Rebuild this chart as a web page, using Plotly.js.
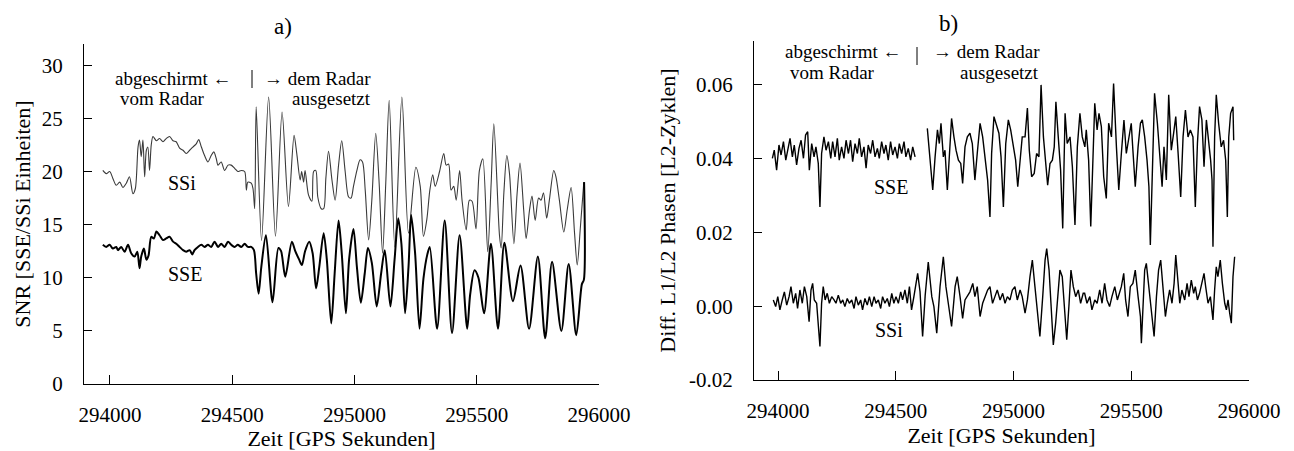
<!DOCTYPE html>
<html>
<head>
<meta charset="utf-8">
<script src="https://cdn.plot.ly/plotly-3.0.1.min.js"></script>
<style>html,body{margin:0;padding:0;background:#fff;}#chart{width:1294px;height:451px;}</style>
</head>
<body>
<div id="chart"></div>
<script>
// ---- Panel a) SNR, SSi (thin) ----
const aSsiTime = [293971,293985,293999,294012,294026,294040,294053,294067,294080,294094,294104,294115,294121,294128,294135,294142,294149,294155,294162,294169,294176,294190,294203,294217,294230,294244,294258,294271,294285,294299,294312,294326,294339,294353,294363,294374,294387,294401,294414,294425,294435,294442,294455,294469,294483,294496,294510,294523,294537,294551,294558,294564,294578,294585,294592,294598,294620,294649,294677,294704,294730,294753,294764,294778,294784,294792,294798,294812,294826,294833,294842,294850,294864,294874,294883,294894,294908,294921,294935,294948,294962,294976,294986,294996,295010,295023,295033,295044,295058,295071,295087,295101,295115,295128,295142,295165,295194,295221,295251,295269,295282,295296,295308,295320,295330,295348,295365,295375,295385,295395,295406,295416,295430,295440,295457,295470,295481,295497,295511,295525,295545,295559,295570,295593,295600,295611,295623,295634,295652,295665,295677,295692,295702,295716,295726,295739,295753,295763,295773,295786,295797,295815,295824,295838,295856,295870,295886,295900,295911,295924,295938];
const aSsiSnr = [20.1,19.8,20.0,19.35,18.7,19.0,18.5,18.9,19.5,17.9,18.4,22.3,22.95,21.4,22.95,19.5,22.0,22.3,20.1,22.5,23.3,22.9,23.1,22.8,23.1,23.3,22.9,22.8,22.2,22.0,21.7,22.0,22.3,22.6,23.0,22.3,21.5,20.9,21.5,21.85,21.2,20.6,20.9,20.1,20.6,20.6,20.3,20.0,20.1,20.0,18.25,19.0,18.9,18.4,16.5,26.1,13.5,27.0,13.9,25.6,16.7,23.4,21.7,19.2,20.0,19.0,20.1,17.8,17.2,20.0,20.1,17.6,16.5,16.5,19.35,21.9,19.2,17.3,20.6,22.9,20.0,17.6,17.5,18.6,20.1,21.1,20.9,18.25,13.55,17.3,23.6,18.9,12.3,18.9,26.7,12.9,27.0,14.2,20.4,18.6,13.9,15.5,18.2,19.7,18.6,20.0,21.7,20.6,20.7,18.25,18.6,17.3,20.1,17.3,14.5,17.3,17.2,14.6,20.1,21.2,12.45,18.9,24.5,14.0,12.8,18.0,21.5,19.8,13.2,17.9,20.8,16.4,13.7,16.4,17.7,15.4,17.5,17.3,18.0,15.6,17.3,20.1,19.5,17.3,14.3,16.4,18.5,14.2,11.2,14.8,19.0];

// ---- Panel a) SNR, SSE (thick) ----
const aSseTime = [293971,293985,293999,294012,294026,294033,294046,294060,294074,294087,294101,294112,294121,294128,294139,294149,294158,294169,294180,294190,294203,294217,294230,294244,294258,294271,294285,294299,294312,294326,294337,294346,294360,294374,294387,294401,294414,294428,294442,294455,294469,294483,294496,294510,294523,294537,294551,294564,294578,294589,294598,294608,294619,294638,294665,294689,294700,294717,294744,294758,294774,294785,294798,294815,294829,294843,294856,294874,294887,294905,294919,294935,294948,294965,294978,294996,295010,295026,295042,295055,295071,295091,295109,295124,295147,295164,295179,295192,295207,295221,295232,295248,295266,295282,295298,295308,295338,295369,295399,295430,295461,295473,295491,295507,295530,295558,295587,295613,295648,295679,295714,295750,295780,295808,295846,295876,295907,295930,295938,295939];
const aSseSnr = [13.1,12.9,13.1,12.75,12.9,12.6,12.9,12.45,13.1,12.3,12.0,12.45,10.9,12.0,12.75,11.7,12.1,13.85,13.7,14.35,14.0,13.55,13.7,13.85,13.4,13.2,12.9,12.6,12.45,12.6,12.2,12.6,12.9,13.1,12.9,13.1,12.9,13.4,12.9,13.2,12.9,13.4,13.1,12.9,13.1,12.9,13.2,12.9,12.9,12.6,10.4,8.5,11.0,14.0,7.7,12.8,12.5,10.1,13.4,12.5,11.7,11.2,12.5,13.4,12.3,9.0,11.0,14.2,11.7,5.7,10.4,15.4,12.3,6.65,11.7,14.6,11.0,7.65,10.4,12.8,11.4,7.3,10.4,12.6,7.3,11.7,15.6,13.2,6.65,11.0,15.9,12.3,5.2,9.9,12.2,12.9,5.2,15.4,4.8,14.0,5.2,8.4,10.7,10.0,6.65,13.2,5.2,13.3,7.8,11.15,5.2,12.0,4.3,11.5,5.0,11.3,4.6,9.4,9.8,19.0];

// ---- Panel b) Diff. L1/L2 phase, SSE (upper) ----
const bSseTime = [293976,293984,293994,294004,294013,294023,294033,294041,294051,294061,294069,294079,294089,294098,294108,294117,294126,294133,294143,294153,294161,294171,294178,294185,294195,294204,294214,294224,294232,294242,294252,294260,294270,294280,294289,294299,294308,294317,294327,294337,294345,294355,294365,294374,294383,294393,294402,294412,294422,294430,294440,294450,294458,294468,294478,294487,294497,294507,294515,294525,294535,294543,294553,294563,294572,294582,294600,
294634,294638,294648,294657,294667,294677,294685,294692,294702,294709,294719,294728,294737,294747,294756,294766,294776,294784,294794,294804,294815,294825,294836,294846,294858,294869,294879,294890,294900,294907,294917,294928,294938,294947,294957,294967,294978,294988,294999,295009,295018,295028,295037,295049,295059,295067,295077,295088,295098,295108,295117,295127,295136,295145,295155,295165,295173,295180,295190,295200,295209,295219,295228,295240,295250,295261,295271,295282,295292,295303,
295309,295319,295328,295338,295345,295355,295363,295373,295383,295394,295404,295416,295425,295437,295447,295458,295469,295479,295489,295500,295507,295517,295529,295539,295547,295557,295567,295575,295581,295590,295599,295611,295621,295631,295639,295649,295659,295670,295680,295689,295699,295710,295720,295730,295741,295751,295762,295772,295781,295790,295800,295809,295819,295829,295837,295843,295847,295854,295861,295871,295882,295892,295901,295908,295914,295922,295932,295935];
const bSsePhase = [0.0401,0.0423,0.0369,0.0437,0.0410,0.0446,0.0396,0.0423,0.0455,0.0405,0.0437,0.0383,0.0428,0.0450,0.0401,0.0464,0.0473,0.0369,0.0441,0.0405,0.0432,0.0387,0.0269,0.0414,0.0459,0.0423,0.0446,0.0401,0.0446,0.0405,0.0455,0.0396,0.0432,0.0401,0.0450,0.0414,0.0450,0.0392,0.0441,0.0414,0.0455,0.0405,0.0432,0.0374,0.0437,0.0414,0.0450,0.0405,0.0428,0.0401,0.0446,0.0414,0.0437,0.0396,0.0446,0.0410,0.0432,0.0401,0.0441,0.0414,0.0446,0.0405,0.0428,0.0396,0.0432,0.0405,null,
0.0482,0.0450,0.0378,0.0315,0.0405,0.0478,0.0441,0.0496,0.0405,0.0423,0.0315,0.0432,0.0509,0.0459,0.0423,0.0396,0.0387,0.0333,0.0432,0.0459,0.0469,0.0441,0.0342,0.0414,0.0496,0.0459,0.0396,0.0342,0.0242,0.0414,0.0514,0.0487,0.0469,0.0405,0.0269,0.0441,0.0505,0.0478,0.0432,0.0396,0.0324,0.0405,0.0459,0.0459,0.0537,0.0423,0.0351,0.0360,0.0414,0.0405,0.0600,0.0459,0.0387,0.0328,0.0387,0.0396,0.0432,0.0554,0.0459,0.0369,0.0211,0.0523,0.0441,0.0459,0.0378,0.0220,0.0432,0.0523,0.0459,0.0432,
0.0478,0.0396,0.0216,0.0441,0.0550,0.0478,0.0523,0.0487,0.0351,0.0292,0.0496,0.0459,0.0604,0.0432,0.0315,0.0414,0.0505,0.0414,0.0459,0.0496,0.0423,0.0324,0.0432,0.0496,0.0505,0.0459,0.0396,0.0324,0.0166,0.0414,0.0577,0.0496,0.0396,0.0324,0.0432,0.0342,0.0573,0.0423,0.0469,0.0514,0.0414,0.0296,0.0459,0.0532,0.0459,0.0478,0.0459,0.0269,0.0441,0.0541,0.0505,0.0378,0.0505,0.0450,0.0396,0.0342,0.0161,0.0459,0.0573,0.0496,0.0432,0.0450,0.0396,0.0242,0.0459,0.0523,0.0541,0.0450];

// ---- Panel b) Diff. L1/L2 phase, SSi (lower) ----
const bSsiTime = [293980,293990,293999,294008,294018,294027,294037,294047,294055,294065,294075,294083,294093,294103,294112,294122,294132,294140,294147,294154,294164,294171,294178,294185,294192,294200,294209,294218,294228,294238,294246,294256,294266,294275,294284,294294,294303,294313,294323,294331,294341,294351,294359,294369,294379,294388,294398,294408,294416,294426,294436,294444,294454,294464,294473,294483,294492,294501,294511,294521,294529,294539,294549,294558,294567,294577,294586,294593,294603,294614,294625,294638,
294653,294662,294674,294688,294702,294713,294723,294737,294752,294761,294773,294784,294794,294804,294815,294827,294836,294846,294858,294869,294879,294890,294900,294911,294921,294931,294943,294954,294964,294974,294985,294995,295006,295016,295028,295037,295049,295059,295070,295080,295091,295101,295112,295124,295134,295141,295151,295159,295169,295179,295187,295197,295207,295216,295226,295236,295244,295254,295264,295275,295285,295296,
295302,295312,295324,295333,295345,295355,295366,295376,295387,295397,295408,295418,295430,295441,295451,295458,295468,295476,295486,295496,295507,295517,295529,295539,295543,295550,295557,295564,295574,295582,295590,295597,295607,295616,295625,295635,295645,295653,295663,295673,295682,295689,295699,295706,295715,295727,295737,295745,295755,295765,295772,295781,295790,295800,295809,295816,295826,295836,295847,295854,295861,295868,295878,295887,295897,295904,295911,295918,295925,295932,295939];
const bSsiPhase = [0.0017,-0.0001,0.0026,-0.0010,0.0017,0.0039,0.0003,0.0026,0.0053,0.0008,0.0035,-0.0006,0.0044,0.0008,0.0053,0.0026,-0.0042,0.0044,0.0062,0.0017,0.0008,-0.0046,-0.0109,0.0008,0.0053,0.0017,0.0035,0.0008,0.0026,0.0017,0.0008,0.0030,0.0008,0.0017,-0.0001,0.0021,0.0008,0.0017,-0.0006,0.0026,0.0003,0.0017,-0.0010,0.0021,0.0003,0.0026,-0.0001,0.0026,0.0008,0.0017,-0.0006,0.0026,0.0008,0.0021,-0.0001,0.0035,0.0008,0.0026,0.0008,0.0039,0.0017,0.0044,0.0008,0.0053,-0.0010,0.0026,0.0062,0.0089,0.0040,-0.0082,0.0030,0.0120,
0.0026,-0.0001,-0.0073,0.0053,0.0134,0.0053,0.0008,-0.0055,0.0053,0.0080,0.0026,-0.0033,0.0017,0.0026,0.0039,0.0062,0.0026,0.0053,-0.0028,0.0008,0.0026,0.0044,0.0053,0.0008,0.0026,0.0044,0.0017,0.0035,0.0008,0.0026,0.0017,0.0044,0.0053,0.0017,0.0044,0.0026,-0.0019,0.0017,0.0080,0.0125,0.0053,-0.0010,-0.0082,0.0026,0.0125,0.0156,0.0098,0.0008,-0.0105,-0.0046,0.0026,0.0098,0.0080,0.0008,-0.0091,0.0008,0.0098,0.0053,0.0026,0.0044,0.0008,0.0035,
0.0035,0.0008,0.0026,-0.0010,0.0017,0.0008,0.0044,0.0008,0.0062,0.0017,-0.0001,0.0026,0.0053,0.0017,0.0035,0.0053,0.0089,0.0017,-0.0028,0.0053,0.0062,0.0098,0.0026,-0.0028,-0.0100,0.0008,0.0098,0.0116,0.0053,-0.0001,-0.0055,-0.0082,0.0026,0.0098,0.0125,0.0053,-0.0028,0.0008,0.0044,0.0008,0.0062,0.0139,0.0053,0.0008,0.0044,0.0017,0.0062,0.0026,0.0071,0.0035,0.0053,0.0017,0.0035,0.0062,0.0089,0.0053,0.0008,0.0026,-0.0037,0.0044,0.0107,0.0080,0.0125,0.0062,0.0008,-0.0010,0.0017,-0.0019,-0.0046,0.0080,0.0134];

// ---- Axis ticks ----
const timeTicks = [294000, 294500, 295000, 295500, 296000];
const timeTickText = ['294000', '294500', '295000', '295500', '296000'];
const snrTicks = [0, 5, 10, 15, 20, 25, 30];
const phaseTicks = [-0.02, 0.00, 0.02, 0.04, 0.06];
const phaseTickText = ['-0.02', '0.00', '0.02', '0.04', '0.06'];

const W = 1294, H = 451;
const FONT = '"Liberation Serif", serif';
const px = v => v / W;
const py = v => 1 - v / H;

const traces = [
  {x: aSsiTime, y: aSsiSnr, xaxis: 'x', yaxis: 'y', mode: 'lines', line: {color: '#3a3a3a', width: 1.1, shape: 'spline', smoothing: 0.8}, hoverinfo: 'skip'},
  {x: aSseTime, y: aSseSnr, xaxis: 'x', yaxis: 'y', mode: 'lines', line: {color: '#000', width: 2, shape: 'spline', smoothing: 0.8}, hoverinfo: 'skip'},
  {x: bSseTime, y: bSsePhase, xaxis: 'x2', yaxis: 'y2', mode: 'lines', connectgaps: false, line: {color: '#000', width: 1.4}, hoverinfo: 'skip'},
  {x: bSsiTime, y: bSsiPhase, xaxis: 'x2', yaxis: 'y2', mode: 'lines', line: {color: '#000', width: 1.4}, hoverinfo: 'skip'}
];

const axisCommon = {
  showgrid: false, zeroline: false, showline: true, linecolor: '#000', linewidth: 1,
  ticks: 'inside', tickcolor: '#000', tickwidth: 1, mirror: false, automargin: false,
  tickfont: {family: FONT, size: 21, color: '#000'}
};

const layout = {
  width: W, height: H,
  margin: {l: 0, r: 0, t: 0, b: 0},
  paper_bgcolor: '#fff', plot_bgcolor: '#fff',
  showlegend: false,
  font: {family: FONT, color: '#000'},
  xaxis: Object.assign({}, axisCommon, {
    domain: [px(84), px(599)], range: [293894, 296000], anchor: 'y',
    tickvals: timeTicks, ticktext: timeTickText, ticklen: 9, ticklabelstandoff: 12,
    title: {text: 'Zeit [GPS Sekunden]', font: {family: FONT, size: 22, color: '#000'}, standoff: 1}
  }),
  yaxis: Object.assign({}, axisCommon, {
    domain: [py(384), py(44)], range: [0, 32], anchor: 'x',
    tickvals: snrTicks, ticklen: 8, ticklabelstandoff: 16,
    title: {text: 'SNR [SSE/SSi Einheiten]', font: {family: FONT, size: 22, color: '#000'}, standoff: 5}
  }),
  xaxis2: Object.assign({}, axisCommon, {
    domain: [px(754), px(1249)], range: [293898, 296000], anchor: 'y2',
    tickvals: timeTicks, ticktext: timeTickText, ticklen: 9, ticklabelstandoff: 12,
    title: {text: 'Zeit [GPS Sekunden]', font: {family: FONT, size: 22, color: '#000'}, standoff: 0}
  }),
  yaxis2: Object.assign({}, axisCommon, {
    domain: [py(380), py(41)], range: [-0.02, 0.0719], anchor: 'x2',
    tickvals: phaseTicks, ticktext: phaseTickText, ticklen: 8, ticklabelstandoff: 16,
    title: {text: 'Diff. L1/L2 Phasen [L2-Zyklen]', font: {family: FONT, size: 22, color: '#000'}, standoff: 7}
  }),
  annotations: [],
  shapes: [
    {type: 'line', xref: 'paper', yref: 'paper', x0: 252 / W, x1: 252 / W, y0: 1 - 70 / H, y1: 1 - 88 / H, line: {color: '#000', width: 1}},
    {type: 'line', xref: 'paper', yref: 'paper', x0: 917 / W, x1: 917 / W, y0: 1 - 47 / H, y1: 1 - 65 / H, line: {color: '#000', width: 1}}
  ]
};

function note(text, x, y, anchor, size) {
  layout.annotations.push({
    text: text, xref: 'paper', yref: 'paper', x: px(x), y: py(y),
    xanchor: anchor || 'left', yanchor: 'middle', showarrow: false,
    font: {family: FONT, size: size || 19, color: '#000'}
  });
}
// panel titles
note('a)', 283, 27, 'center', 23);
note('b)', 948, 23, 'center', 23);
// panel a annotations
note('abgeschirmt \u2190', 113, 78);
note('\u2192 dem Radar', 262, 78);
note('vom Radar', 118, 98);
note('ausgesetzt', 290, 98);
note('SSi', 182, 183, 'center', 20);
note('SSE', 185, 274, 'center', 20);
// panel b annotations
note('abgeschirmt \u2190', 783, 52);
note('\u2192 dem Radar', 931, 52);
note('vom Radar', 788, 72);
note('ausgesetzt', 958, 72);
note('SSE', 891, 187, 'center', 20);
note('SSi', 889, 330, 'center', 20);

Plotly.newPlot('chart', traces, layout, {staticPlot: true, displayModeBar: false});
</script>
</body>
</html>
